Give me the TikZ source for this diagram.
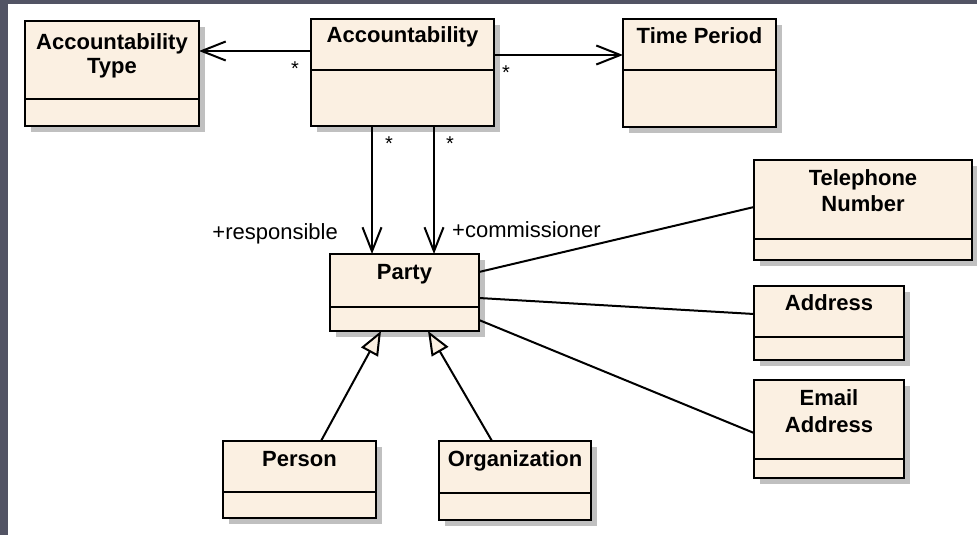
\documentclass[tikz,border=0pt]{standalone}
\usepackage{fontspec}
\setmainfont{Liberation Sans}
\usetikzlibrary{arrows.meta,shadows}
\definecolor{cream}{RGB}{251,240,226}
\definecolor{shadowgray}{RGB}{192,192,192}
\definecolor{framecol}{RGB}{82,84,100}
\begin{document}
\begin{tikzpicture}[x=1pt,y=-1pt,
  cls/.style={draw=black, line width=2.6pt, fill=cream, outer sep=0pt, inner sep=0pt,
    anchor=north west,
    general shadow={fill=shadowgray, shadow xshift=6pt, shadow yshift=-6pt}},
  divline/.style={line width=2pt},
  clsname/.style={font=\bfseries\fontsize{22pt}{26pt}\selectfont, anchor=base, inner sep=0pt},
  mult/.style={font=\fontsize{20pt}{24pt}\selectfont, anchor=north, inner sep=0pt},
  role/.style={font=\fontsize{22pt}{26pt}\selectfont, inner sep=0pt},
  assoc/.style={line width=2pt, -{Straight Barb[length=24pt, width=19pt]}},
  plain/.style={line width=2pt},
  gen/.style={line width=2pt, -{Triangle[length=24pt, width=19pt, fill=cream]}}
]
% background
\path[use as bounding box, fill=framecol] (0,0) rectangle (977,535);
\fill[white] (8,4) rectangle (977,535);

% class boxes
\node[cls, minimum width=174pt, minimum height=105pt] (acctype) at (25,21) {};
\node[cls, minimum width=183pt, minimum height=107pt] (acc) at (311,19) {};
\node[cls, minimum width=153pt, minimum height=108pt] (time) at (623,19) {};
\node[cls, minimum width=218pt, minimum height=100pt] (tel) at (754,160) {};
\node[cls, minimum width=150pt, minimum height=74pt] (addr) at (754,286) {};
\node[cls, minimum width=150pt, minimum height=98pt] (email) at (754,380) {};
\node[cls, minimum width=149pt, minimum height=77pt] (party) at (330,254) {};
\node[cls, minimum width=153pt, minimum height=77pt] (person) at (223,441) {};
\node[cls, minimum width=152pt, minimum height=79pt] (org) at (439,441) {};

% compartment dividers
\foreach \n/\yy in {acctype/99, acc/70, time/70, tel/239, addr/337, email/459, party/307, person/492, org/493}
  \draw[divline] (\n.west |- 0,\yy) -- (\n.east |- 0,\yy);

% class names
\node[clsname] (acctype-t1) at (acctype.north |- 0,49) {Accountability};
\node[clsname] (acctype-t2) at (acctype.north |- 0,74) {Type};
\node[clsname] (acc-t) at (acc.north |- 0,43) {Accountability};
\node[clsname] (time-t) at (time.north |- 0,44) {Time Period};
\node[clsname] (tel-t1) at (tel.north |- 0,185) {Telephone};
\node[clsname] (tel-t2) at (tel.north |- 0,211) {Number};
\node[clsname] (addr-t) at (addr.north |- 0,310) {Address};
\node[clsname] (email-t1) at (email.north |- 0,405) {Email};
\node[clsname] (email-t2) at (email.north |- 0,432) {Address};
\node[clsname] (party-t) at (party.north |- 0,279) {Party};
\node[clsname] (person-t) at (person.north |- 0,466) {Person};
\node[clsname] (org-t) at (org.north |- 0,466) {Organization};

% associations
\draw[assoc] (acc.west |- 0,51) -- (acctype.east |- 0,51);
\draw[assoc] (acc.east |- 0,55) -- (time.west |- 0,55);
\draw[assoc] (acc.south -| 372,0) -- (party.north -| 372,0);
\draw[assoc] (acc.south -| 434,0) -- (party.north -| 434,0);
\draw[plain] (party.east |- 0,272) -- (tel.west |- 0,207);
\draw[plain] (party.east |- 0,298) -- (addr.west |- 0,314);
\draw[plain] (party.east |- 0,320) -- (email.west |- 0,433);

% generalizations
\draw[gen] (person.north -| 321,0) -- (party.south -| 381,0);
\draw[gen] (org.north -| 492,0) -- (party.south -| 428,0);

% multiplicities
\node[mult] (m-type) at (295,62) {*};
\node[mult] (m-time) at (506,66) {*};
\node[mult] (m-resp) at (389,137) {*};
\node[mult] (m-comm) at (450,137) {*};

% role names
\node[role, anchor=base east] (r-resp) at (338,239) {+responsible};
\node[role, anchor=base west] (r-comm) at (452,237) {+commissioner};
\end{tikzpicture}
\end{document}
